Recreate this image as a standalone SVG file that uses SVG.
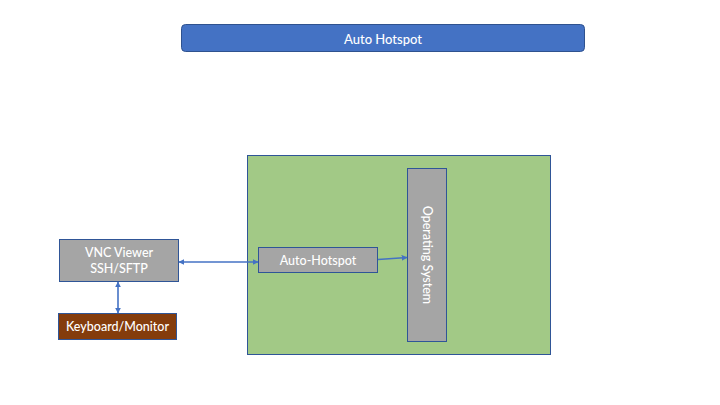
<svg xmlns="http://www.w3.org/2000/svg" width="720" height="405" viewBox="0 0 720 405">
<defs>
<marker id="arr" viewBox="0 0 10 10" refX="9" refY="5" markerWidth="6" markerHeight="6" orient="auto-start-reverse" markerUnits="userSpaceOnUse">
<path d="M0,0 L10,5 L0,10 z" fill="#4472C4"/>
</marker>
<style>
.lbl{font-family:Lato,"Open Sans","Liberation Sans",sans-serif;font-size:12.5px;font-weight:500;fill:#ffffff;text-anchor:middle;dominant-baseline:central}
.gray{fill:#A5A5A5;stroke:#2F5597;stroke-width:1}
.conn{stroke:#4472C4;stroke-width:1.6;fill:none}
</style>
</defs>
<rect width="720" height="405" fill="#ffffff"/>
<g id="title">
<rect x="181.5" y="24.5" width="403" height="27" rx="4" fill="#4472C4" stroke="#2F528F" stroke-width="1"/>
<text class="lbl" x="383" y="38.5" style="font-size:13px">Auto Hotspot</text>
</g>
<g id="device">
<rect x="247.5" y="155.5" width="303" height="199" fill="#A2C986" stroke="#2F5597" stroke-width="1"/>
</g>
<g id="os">
<rect class="gray" x="407.5" y="168.5" width="39" height="173"/>
<text class="lbl" transform="translate(427,255) rotate(90)">Operating System</text>
</g>
<g id="autohotspot">
<rect class="gray" x="258.5" y="247.5" width="119" height="25"/>
<text class="lbl" x="318" y="260">Auto-Hotspot</text>
</g>
<g id="vnc">
<rect class="gray" x="59.5" y="239.5" width="119" height="42"/>
<text class="lbl" x="119" y="252.5">VNC Viewer</text>
<text class="lbl" x="119" y="268.5">SSH/SFTP</text>
</g>
<g id="keyboard">
<rect x="58.5" y="313.5" width="118" height="26" fill="#843C0C" stroke="#2F5597" stroke-width="1"/>
<text class="lbl" x="117.5" y="326.5">Keyboard/Monitor</text>
</g>
<g id="connectors">
<line class="conn" x1="179" y1="262" x2="258" y2="262" marker-start="url(#arr)" marker-end="url(#arr)"/>
<line class="conn" x1="118" y1="282" x2="118" y2="313" marker-start="url(#arr)" marker-end="url(#arr)"/>
<line class="conn" x1="378" y1="259.5" x2="407" y2="257.5" marker-end="url(#arr)"/>
</g>
</svg>
